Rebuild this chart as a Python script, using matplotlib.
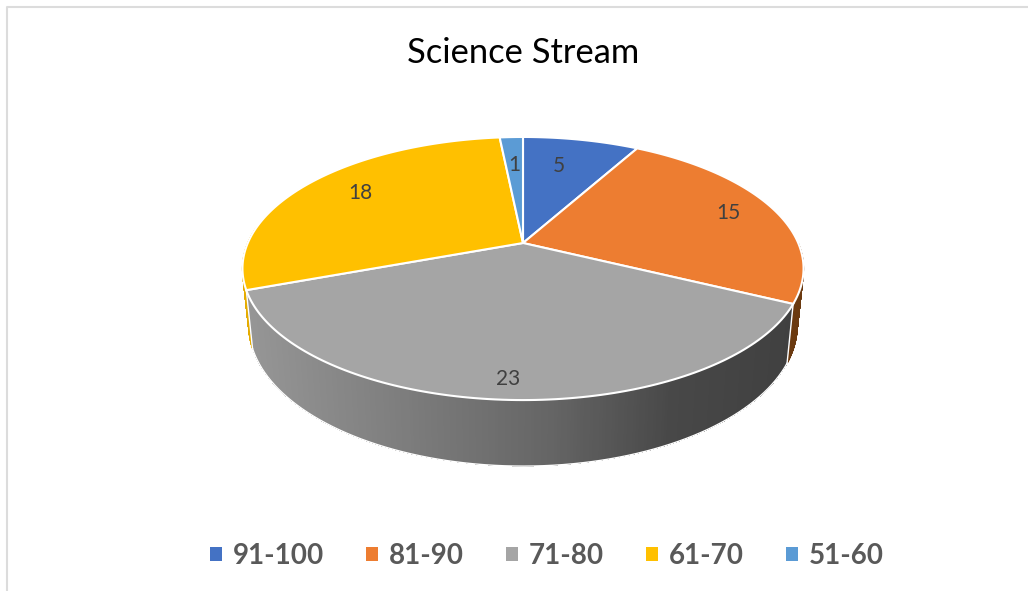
import numpy as np
import matplotlib
matplotlib.use('Agg')
import matplotlib.pyplot as plt
from matplotlib.patches import Patch
from matplotlib.collections import PolyCollection
from matplotlib.colors import LinearSegmentedColormap

# dados do grafico
categorias = ['91-100', '81-90', '71-80', '61-70', '51-60']
valores = [5, 15, 23, 18, 1]
cores = ['#4472C4', '#ED7D31', '#A5A5A5', '#FFC000', '#5B9BD5']
cores_parede = ['#264478', '#6B3A10', '#8A8A8A', '#E5AC00', '#3E75A8']
raio_rotulo = [0.70, 0.82, 0.89, 0.77, 0.70]
desvio_rotulo = [-2.5, 0, 0, 2, 0]  # graus

plt.rcParams['font.family'] = ['Lato', 'DejaVu Sans']

fig = plt.figure(figsize=(10.28, 5.91), dpi=100)
ax = fig.add_axes([0, 0, 1, 1])
ax.set_xlim(0, 1028)
ax.set_ylim(591, 0)
ax.axis('off')

# perspectiva do disco: topo e base
K = 0.194
CX = 523


def projeta(ang, r=1.0, cy=243, rx=275.2, ry=126.6):
    u = r * np.sin(ang)
    v = r * np.cos(ang)
    w = 1 + K * v
    return CX + rx * u / w, cy - ry * v / w


def projeta_base(ang):
    return projeta(ang, cy=298, rx=269, ry=135.5)


# angulos das fatias, sentido horario a partir do topo
fim = np.cumsum(valores) / sum(valores) * 2 * np.pi
ini = np.concatenate([[0], fim[:-1]])

# parede lateral, fatias de tras primeiro
gradiente = LinearSegmentedColormap.from_list(
    'parede', [(0, '#969696'), (0.3, '#7C7C7C'), (0.55, '#666666'), (0.78, '#484848'), (1, '#404040')])


def parede(a0, a1, cor=None, z=1):
    angs = np.linspace(a0, a1, 240)
    xt, yt = projeta(angs)
    xb, yb = projeta_base(angs)
    quads = [[(xt[i], yt[i]), (xt[i + 1], yt[i + 1]), (xb[i + 1], yb[i + 1]), (xb[i], yb[i])]
             for i in range(len(angs) - 1)]
    if cor is None:
        # base lisa por baixo do gradiente, para a borda ficar suave
        ax.fill(np.r_[xt, xb[::-1]], np.r_[yt, yb[::-1]], color='#666666', lw=0, zorder=z)
        cs = [gradiente(np.clip((x - 245) / 550, 0, 1)) for x in xt[:-1]]
        ax.add_collection(PolyCollection(quads, facecolors=cs, edgecolors='none', linewidths=0,
                                         antialiaseds=False, zorder=z))
        # contorno branco
        ax.plot(xb, yb, color='white', lw=1, zorder=z + 0.1)
        ax.plot([xt[0], xb[0]], [yt[0], yb[0]], color='white', lw=1, zorder=z + 0.1)
        ax.plot([xt[-1], xb[-1]], [yt[-1], yb[-1]], color='white', lw=1, zorder=z + 0.1)
    else:
        ax.add_collection(PolyCollection(quads, facecolors=cor, edgecolors=cor, linewidths=0.8, zorder=z))


parede(np.pi / 2, ini[2], cores_parede[1], z=1)
parede(ini[3], 3 * np.pi / 2 + 0.12, cores_parede[3], z=1)
parede(ini[2], ini[3], None, z=2)

# topo do disco
for i in range(len(valores)):
    angs = np.linspace(ini[i], fim[i], 120)
    xs, ys = projeta(angs)
    ax.fill(np.r_[CX, xs], np.r_[243, ys], color=cores[i], ec='white', lw=1.5, zorder=3, joinstyle='miter')

# rotulos
for i, val in enumerate(valores):
    meio = (ini[i] + fim[i]) / 2 + np.radians(desvio_rotulo[i])
    lx, ly = projeta(meio, r=raio_rotulo[i])
    ax.text(lx, ly, str(val), fontsize=15, color='#404040', ha='center', va='center', zorder=4)

ax.text(523, 53, 'Science Stream', fontsize=24.8, color='black', ha='center', va='center')

# moldura
ax.plot([7, 7, 1028], [591, 7, 7], color='#DCDCDC', lw=1.5, zorder=0)

handles = [Patch(facecolor=c, label=l) for c, l in zip(cores, categorias)]
ax.legend(handles=handles, loc='center', bbox_to_anchor=(547 / 1028, 1 - 556 / 591), ncol=5, frameon=False,
          labelcolor='#595959', prop={'weight': 'bold', 'size': 20}, handlelength=0.43, handleheight=0.43,
          handletextpad=0.4, columnspacing=1.51)

plt.savefig('out.png', dpi=100)
plt.close()
